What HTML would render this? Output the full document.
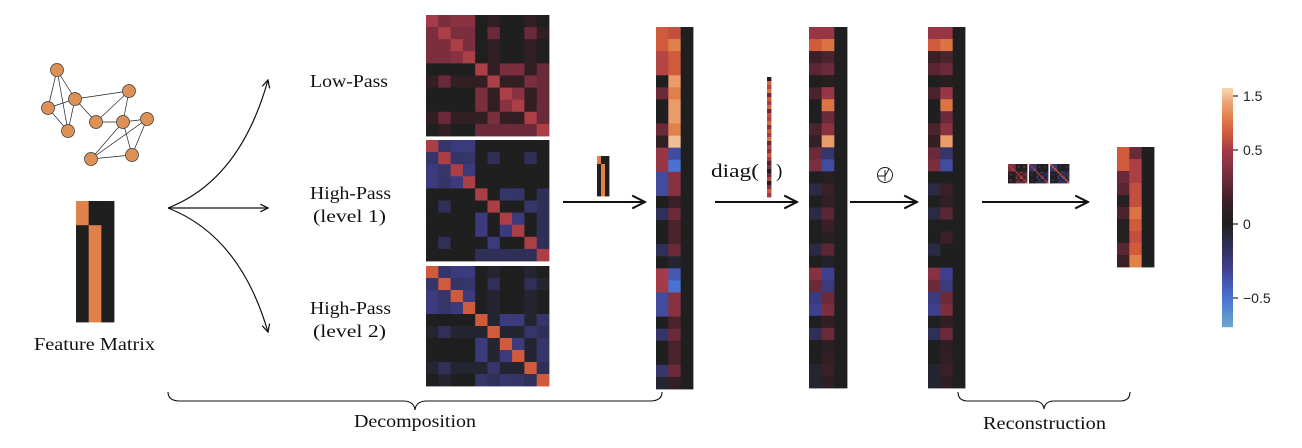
<!DOCTYPE html>
<html><head><meta charset="utf-8"><style>
html,body{margin:0;padding:0;background:#fff;}
svg{display:block;}
.serif{font-family:"Liberation Serif",serif;fill:#111;}
.sans{font-family:"Liberation Sans",sans-serif;fill:#222;}
</style></head><body>
<svg id="fig" width="1302" height="448" viewBox="0 0 1302 448">
<defs><marker id="ah" viewBox="0 0 10 10" refX="9" refY="5" markerWidth="8" markerHeight="8" orient="auto"><path d="M1,1 L9,5 L1,9" fill="none" stroke="#111" stroke-width="1.3"/></marker></defs>
<g id="graph"></g>
<g id="marks"></g>
<g stroke="#111" fill="none" stroke-width="1.2">
<path d="M168,208 Q240,180 268,80" marker-end="url(#ah)"/>
<path d="M168,208 L268,208" marker-end="url(#ah)"/>
<path d="M168,208 Q240,236 268,332" marker-end="url(#ah)"/>
</g>
<g stroke="#111" fill="none" stroke-width="2">
<path d="M563,202 L645,202" marker-end="url(#ah)"/>
<path d="M715,202 L797,202" marker-end="url(#ah)"/>
<path d="M850,202 L917,202" marker-end="url(#ah)"/>
<path d="M982,202 L1088,202" marker-end="url(#ah)"/>
</g>
<text class="serif" x="310" y="87" font-size="18" textLength="78" lengthAdjust="spacingAndGlyphs">Low-Pass</text>
<text class="serif" x="310" y="199" font-size="18" textLength="81" lengthAdjust="spacingAndGlyphs">High-Pass</text>
<text class="serif" x="313" y="222" font-size="18" textLength="73" lengthAdjust="spacingAndGlyphs">(level 1)</text>
<text class="serif" x="310" y="314" font-size="18" textLength="81" lengthAdjust="spacingAndGlyphs">High-Pass</text>
<text class="serif" x="313" y="337" font-size="18" textLength="73" lengthAdjust="spacingAndGlyphs">(level 2)</text>
<text class="serif" x="34" y="350" font-size="18" textLength="121" lengthAdjust="spacingAndGlyphs">Feature Matrix</text>
<text class="serif" x="711" y="177" font-size="19" textLength="48" lengthAdjust="spacingAndGlyphs">diag(</text>
<text class="serif" x="776" y="177" font-size="19">)</text>
<g stroke="#111" fill="none" stroke-width="0.9">
<circle cx="885" cy="175" r="7.5"/><path d="M878,176 L885,176 L889,169 M885,170 L885,181"/></g>
<path d="M168,392 Q168,401 180,401 L403,401 Q414,401 415,410 Q416,401 427,401 L650,401 Q662,401 662,392" stroke="#111" fill="none" stroke-width="1.1"/>
<text class="serif" x="354" y="427" font-size="18" textLength="122" lengthAdjust="spacingAndGlyphs">Decomposition</text>
<path d="M958,392 Q958,401 968,401 L1034,401 Q1043,401 1044,409 Q1045,401 1054,401 L1120,401 Q1130,401 1130,392" stroke="#111" fill="none" stroke-width="1.1"/>
<text class="serif" x="983" y="429" font-size="18" textLength="123" lengthAdjust="spacingAndGlyphs">Reconstruction</text>
</svg>
<script>
const lowPass=[
[.5,.35,.4,.4,0,.1,0,0,.1,0],[.35,.55,.35,.35,0,.3,0,0,.3,.1],[.35,.35,.55,.35,0,.1,0,0,.1,0],[.35,.35,.4,.55,0,.1,0,0,.1,0],
[0,0,0,0,.55,.1,.35,.35,.1,.3],[.1,.3,.1,.1,.1,.55,.1,.1,.35,.3],[0,0,0,0,.35,.1,.55,.4,.1,.3],[0,0,0,0,.35,.1,.4,.55,.1,.3],
[.1,.3,.1,.1,.1,.35,.1,.1,.55,.3],[0,.1,0,0,.3,.3,.3,.3,.3,.55]];
const highPass1=[
[.55,-.2,-.25,-.25,0,0,0,0,0,0],[-.2,.55,-.2,-.2,0,-.15,0,0,-.15,0],[-.25,-.2,.55,-.25,0,0,0,0,0,0],[-.25,-.2,-.25,.55,0,0,0,0,0,0],
[0,0,0,0,.55,0,-.2,-.2,0,-.15],[0,-.15,0,0,0,.55,0,0,-.2,-.15],[0,0,0,0,-.25,0,.55,-.25,0,-.15],[0,0,0,0,-.25,0,-.25,.55,0,-.15],
[0,-.15,0,0,0,-.25,0,0,.55,-.15],[0,0,0,0,-.15,-.15,-.15,-.15,-.15,.55]];
const highPass2=[
[.8,-.2,-.25,-.25,0,-.05,0,0,-.05,0],[-.2,.8,-.2,-.2,0,-.15,0,0,-.15,-.05],[-.25,-.2,.8,-.25,0,-.05,0,0,-.05,0],[-.25,-.2,-.25,.8,0,-.05,0,0,-.05,0],
[0,0,0,0,.8,-.05,-.25,-.25,-.05,-.2],[-.05,-.15,-.05,-.05,-.05,.8,-.05,-.05,-.2,-.15],[0,0,0,0,-.25,-.05,.8,-.25,-.05,-.2],[0,0,0,0,-.25,-.05,-.25,.8,-.05,-.2],
[-.05,-.15,-.05,-.05,-.05,-.2,-.05,-.05,.8,-.15],[0,-.05,0,0,-.2,-.15,-.2,-.2,-.15,.8]];
const featCol0=[1,1,0,0,0,0,0,0,0,0];
const featCol1=[0,0,1,1,1,1,1,1,1,1];
const coefA0=[.8,.8,.6,.6,0,.3,0,0,.3,.1,.45,.45,-.35,-.35,0,-.15,0,0,-.15,0,.5,.5,-.35,-.35,0,-.2,0,0,-.2,-.05];
const coefA1=[.7,1.1,.8,.8,1.3,1.1,1.3,1.3,1.1,1.5,-.35,-.5,.4,.4,.15,.3,.2,.2,.3,-.05,-.4,-.5,.4,.4,.2,.3,.2,.2,.3,.1];
const coefB0=[.45,.8,.15,.25,0,.2,0,0,.2,.1,.3,.35,0,-.1,0,-.1,0,0,-.1,0,.4,.3,-.25,-.3,0,-.15,0,0,-.05,-.05];
const coefB1=[.45,1.0,.2,.3,.05,.45,1.0,.3,.4,1.3,-.2,-.35,.03,.15,.1,.25,.15,.05,.25,-.03,-.3,-.25,.3,.35,.1,.3,.08,.1,.15,.08];
const coefC0=[.45,.8,.15,.25,0,.2,0,0,.2,.1,.3,.35,0,-.1,0,-.1,0,0,-.1,0,.4,.3,-.25,-.3,0,-.15,0,0,-.05,-.05];
const coefC1=[.45,1.0,.2,.3,.05,.45,1.0,.3,.4,1.3,-.2,-.35,0,.15,.1,.25,0,.15,0,0,-.3,-.25,.3,.35,.1,.3,.08,.1,.15,.08];
const diagVals=[0,.9,.6,1.0,.3,.8,.5,.9,.3,.7,.6,.9,.4,.8,.5,1.0,.3,.6,.4,.8,.5,.2,.4,0,.3,.6,0,.4,.8,.5];
const outCol0=[.8,.8,.3,.25,.05,.2,.05,.05,.25,.15];
const outCol1=[.3,.55,.55,.7,.7,1.0,.8,.7,.8,1.1];
const cbTicks=[1.5,0.5,0,-0.5];
const nodesX=[57,48,75,68,96,129,123,147,91,132];
const nodesY=[70,108,99,131,122,91,122,119,159,155];
const edges=[[0,1],[0,2],[0,3],[1,2],[1,3],[2,3],[2,4],[2,5],[4,6],[4,5],[5,6],[6,7],[6,8],[6,9],[7,8],[7,9],[8,9]];

const stops=[[-0.8,[111,177,208]],[-0.5,[74,114,208]],[-0.3,[63,63,143]],[-0.1,[42,42,68]],[0,[31,31,31]],[0.15,[58,31,38]],[0.3,[107,42,58]],[0.5,[165,58,72]],[0.8,[208,90,60]],[1.1,[224,128,74]],[1.4,[238,168,122]],[1.6,[246,210,172]]];
function cmap(v){
  if(v<=stops[0][0])return 'rgb('+stops[0][1]+')';
  for(let i=1;i<stops.length;i++){if(v<=stops[i][0]){const a=stops[i-1],b=stops[i],t=(v-a[0])/(b[0]-a[0]);
    return 'rgb('+a[1].map((c,k)=>Math.round(c+(b[1][k]-c)*t)).join(',')+')';}}
  return 'rgb('+stops[stops.length-1][1]+')';
}
const NS='http://www.w3.org/2000/svg';
const marks=document.getElementById('marks');
function el(tag,attrs,parent){const e=document.createElementNS(NS,tag);for(const k in attrs)e.setAttribute(k,attrs[k]);(parent||marks).appendChild(e);return e;}

const graph=document.getElementById('graph');
edges.forEach(e=>{const l=el('line',{x1:nodesX[e[0]],y1:nodesY[e[0]],x2:nodesX[e[1]],y2:nodesY[e[1]],stroke:'#222','stroke-width':0.7},graph);

});
nodesX.forEach((x,i)=>{const c=el('circle',{cx:x,cy:nodesY[i],r:6.5,fill:'#de9156',stroke:'#333','stroke-width':0.7},graph);

});

function heat(matrix,x0,y0,w,h,name){
  const g=el('g',{});
  
  
  const rows=matrix.length,cols=matrix[0].length,cw=w/cols,ch=h/rows;
  matrix.forEach((row,r)=>row.forEach((v,c)=>{
    const rc=el('rect',{x:x0+c*cw,y:y0+r*ch,width:cw+0.4,height:ch+0.4,fill:cmap(v)},g);
    
    
  }));
  return g;
}
function cols(a,b){return a.map((v,i)=>[v,b[i],0]);}
function featMat(){return featCol0.map((v,i)=>[v,featCol1[i],0]);}
function featColor(m){return m.map(r=>r.map(v=>v?1.1:0));}

heat(featColor(featMat()),76,201,38,121,'feature-matrix');
heat(lowPass,426,15,123,121,'low-pass-matrix');
heat(highPass1,426,140,123,121,'high-pass-level1-matrix');
heat(highPass2,426,266,123,120,'high-pass-level2-matrix');
heat(featColor(featMat()),597,156,12,40,'feature-icon');
heat(cols(coefA0,coefA1),656,27,37,362,'wavelet-coefficients');
heat(diagVals.map(v=>[v]),767,77,4,120,'diag-filter-vector');
heat(cols(coefB0,coefB1),809,27,38,361,'filtered-coefficients');
heat(cols(coefC0,coefC1),928,27,37,361,'activated-coefficients');
heat(lowPass,1008,164,19,19,'inverse-low-pass-icon');
heat(highPass1,1029,164,19,19,'inverse-high-pass1-icon');
heat(highPass2,1050,164,19,19,'inverse-high-pass2-icon');
heat(cols(outCol0,outCol1),1117,147,37,120,'output-matrix');

const cbV=[-0.75,-0.5,0,0.5,1.5,1.65];
const cbY=[327,298,224,150,96,88];
function cbScale(v){for(let i=1;i<cbV.length;i++){if(v<=cbV[i]){const t=(v-cbV[i-1])/(cbV[i]-cbV[i-1]);return cbY[i-1]+t*(cbY[i]-cbY[i-1]);}}return cbY[cbY.length-1];}
function cbInv(y){for(let i=1;i<cbY.length;i++){if(y>=cbY[i]){const t=(y-cbY[i-1])/(cbY[i]-cbY[i-1]);return cbV[i-1]+t*(cbV[i]-cbV[i-1]);}}return cbV[cbV.length-1];}
const cb=el('g',{});


for(let y=88;y<327;y++){el('rect',{x:1222,y:y,width:11,height:1.2,fill:cmap(cbInv(y+0.5))},cb);}
cbTicks.forEach(t=>{const y=cbScale(t);
  el('line',{x1:1233,x2:1238,y1:y,y2:y,stroke:'#222','stroke-width':1.2},cb);
  const tx=el('text',{x:1243,y:y+5,'font-size':14,class:'sans'},cb);
  tx.textContent=t<0?'\u2212'+Math.abs(t):String(t);
  
  
});
</script>
</body></html>
